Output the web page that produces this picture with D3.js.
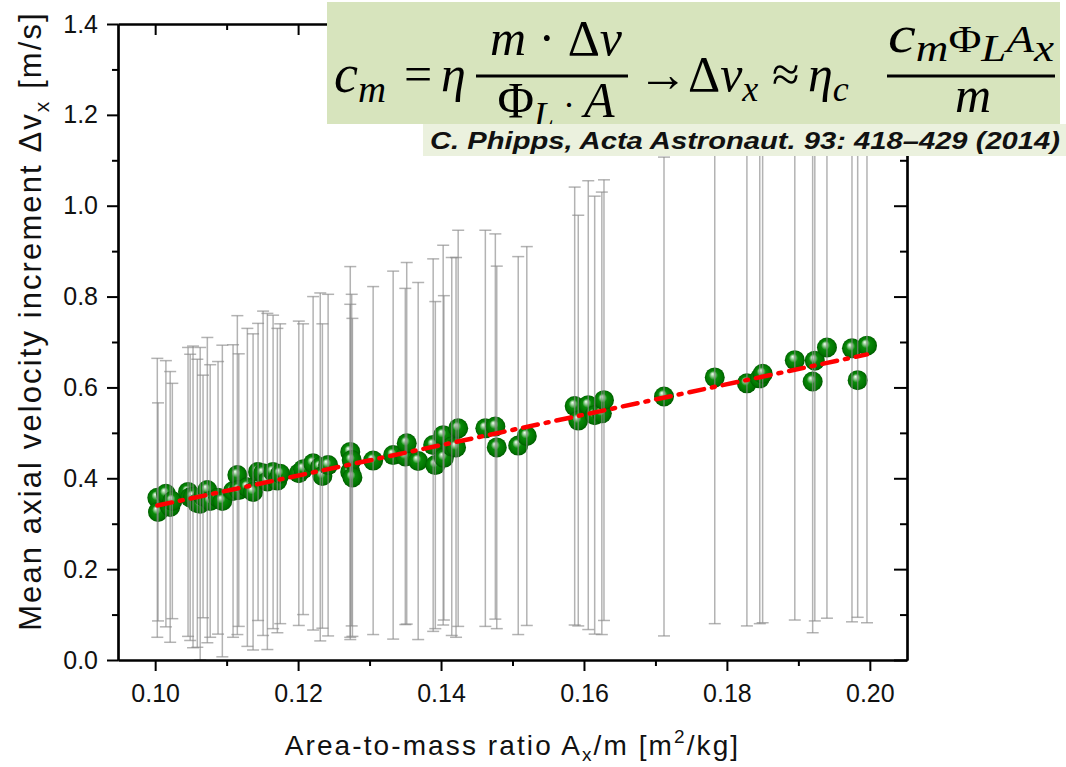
<!DOCTYPE html>
<html>
<head>
<meta charset="utf-8">
<script src="https://cdn.jsdelivr.net/npm/d3@7"></script>
<style>
  html, body { margin: 0; padding: 0; background: #fff; }
  svg { display: block; }
  .tick text { font-family: "Liberation Sans", Arial, sans-serif; font-size: 25px; fill: #111; }
</style>
</head>
<body>
<svg id="chart" width="1066" height="767"></svg>
<script>
// Area-to-mass ratio A_x/m [m^2/kg] of each sample
const ratio = [
  0.1003, 0.1004, 0.1015, 0.1021, 0.1024,
  0.1046, 0.1049, 0.1053, 0.1059, 0.1063, 0.1067, 0.1073, 0.1077, 0.1088, 0.1094,
  0.1109, 0.1115, 0.1117, 0.1129, 0.1137, 0.1144, 0.1151, 0.1157, 0.1165, 0.1171, 0.1175,
  0.1201, 0.1207, 0.1221, 0.1231, 0.1234, 0.1242,
  0.1273, 0.1273, 0.1275, 0.1276,
  0.1305, 0.1333, 0.1350, 0.1352, 0.1368, 0.1389, 0.1392, 0.1403, 0.1404, 0.1415, 0.1421, 0.1424,
  0.1462, 0.1476, 0.1478, 0.1508, 0.1520,
  0.1587, 0.1592, 0.1606, 0.1615, 0.1625, 0.1628,
  0.1712, 0.1783, 0.1828, 0.1846, 0.1850,
  0.1895, 0.1920, 0.1923, 0.1940, 0.1975, 0.1983, 0.1996
];
// Mean axial velocity increment Δv_x [m/s]
const meanDv = [
  0.357, 0.326, 0.366, 0.337, 0.350,
  0.370, 0.358, 0.359, 0.345, 0.344, 0.360, 0.374, 0.350, 0.357, 0.350,
  0.372, 0.407, 0.374, 0.380, 0.370, 0.414, 0.411, 0.393, 0.414, 0.395, 0.410,
  0.411, 0.420, 0.433, 0.425, 0.405, 0.429,
  0.458, 0.414, 0.440, 0.402,
  0.439, 0.451, 0.448, 0.477, 0.438, 0.473, 0.429, 0.495, 0.445, 0.470, 0.468, 0.510,
  0.510, 0.514, 0.468, 0.472, 0.493,
  0.559, 0.527, 0.561, 0.539, 0.543, 0.572,
  0.580, 0.622, 0.609, 0.620, 0.630,
  0.660, 0.613, 0.659, 0.688, 0.686, 0.616, 0.692
];
// Standard deviation of Δv_x [m/s] (symmetric error bars)
const sdDv = [
  0.307, 0.240, 0.293, 0.298, 0.259,
  0.318, 0.315, 0.332, 0.317, 0.344, 0.267, 0.336, 0.300, 0.300, 0.343,
  0.322, 0.351, 0.300, 0.350, 0.348, 0.327, 0.357, 0.370, 0.345, 0.335, 0.330,
  0.335, 0.320, 0.367, 0.383, 0.335, 0.376,
  0.408, 0.369, 0.365, 0.350,
  0.383, 0.405, 0.370, 0.398, 0.393, 0.410, 0.360, 0.418, 0.357, 0.416, 0.418, 0.436,
  0.436, 0.424, 0.399, 0.416, 0.417,
  0.482, 0.452, 0.494, 0.482, 0.487, 0.485,
  0.527, 0.542, 0.534, 0.540, 0.548,
  0.572, 0.553, 0.573, 0.596, 0.602, 0.522, 0.610
];
// Linear fit Δv_x = a + b·(A_x/m)
const fitIntercept = 0.004;
const fitSlope = 3.35;

const xTicks = [0.10, 0.12, 0.14, 0.16, 0.18, 0.20];
const xMinorTicks = [0.11, 0.13, 0.15, 0.17, 0.19];
const yTicks = [0.0, 0.2, 0.4, 0.6, 0.8, 1.0, 1.2, 1.4];
const yMinorTicks = [0.1, 0.3, 0.5, 0.7, 0.9, 1.1, 1.3];

const citation = "C. Phipps, Acta Astronaut. 93: 418\u2013429 (2014)";

const points = ratio.map((r, i) => ({ x: r, y: meanDv[i], e: sdDv[i] }));

const svg = d3.select("#chart");
const L = 118, R = 907, T = 24, B = 660;

const x = d3.scaleLinear().domain([0.0948, 0.2052]).range([L, R]);
const y = d3.scaleLinear().domain([0, 1.4]).range([B, T]);

const defs = svg.append("defs");
defs.append("clipPath").attr("id", "plotClip")
  .append("rect").attr("x", L).attr("y", T).attr("width", R - L).attr("height", B - T);
defs.append("clipPath").attr("id", "eqClip")
  .append("rect").attr("x", 327).attr("y", 2).attr("width", 733).attr("height", 122);

const grad = defs.append("radialGradient").attr("id", "ball")
  .attr("cx", "50%").attr("cy", "50%").attr("r", "50%")
  .attr("fx", "38%").attr("fy", "32%");
grad.append("stop").attr("offset", "0%").attr("stop-color", "#f4fff4");
grad.append("stop").attr("offset", "18%").attr("stop-color", "#9fd39f");
grad.append("stop").attr("offset", "45%").attr("stop-color", "#0a8a0a");
grad.append("stop").attr("offset", "85%").attr("stop-color", "#007400");
grad.append("stop").attr("offset", "100%").attr("stop-color", "#005800");

const plot = svg.append("g").attr("clip-path", "url(#plotClip)");

// spheres
plot.append("g").selectAll("circle").data(points).join("circle")
  .attr("cx", d => x(d.x)).attr("cy", d => y(d.y)).attr("r", 10)
  .attr("fill", "url(#ball)");

// error bars
const eb = plot.append("g").attr("stroke", "#8a8a8a").attr("stroke-width", 1.5)
  .attr("stroke-opacity", 0.65).attr("fill", "none");
const capW = 6;
points.forEach(d => {
  const y0 = y(d.y - d.e), y1 = y(d.y + d.e), cx = x(d.x);
  eb.append("line").attr("x1", cx).attr("x2", cx).attr("y1", y0).attr("y2", y1);
  eb.append("line").attr("x1", cx - capW).attr("x2", cx + capW).attr("y1", y0).attr("y2", y0);
  eb.append("line").attr("x1", cx - capW).attr("x2", cx + capW).attr("y1", y1).attr("y2", y1);
});

// fit line
const xs = d3.extent(ratio);
plot.append("line")
  .attr("x1", x(xs[0])).attr("y1", y(fitIntercept + fitSlope * xs[0]))
  .attr("x2", x(xs[1])).attr("y2", y(fitIntercept + fitSlope * xs[1]))
  .attr("stroke", "#ff0000").attr("stroke-width", 4.5)
  .attr("stroke-dasharray", "15,8,3,8").attr("stroke-linecap", "round");

// axes
function styleAxis(g) {
  g.select(".domain").attr("stroke", "#000").attr("stroke-width", 2.2);
  g.selectAll(".tick line").attr("stroke", "#000").attr("stroke-width", 2);
}
svg.append("g").attr("transform", `translate(0,${B})`)
  .call(d3.axisBottom(x).tickValues(xMinorTicks).tickSize(6).tickFormat("").tickSizeOuter(0)).call(styleAxis);
svg.append("g").attr("transform", `translate(0,${B})`)
  .call(d3.axisBottom(x).tickValues(xTicks).tickSize(11).tickPadding(13).tickFormat(d3.format(".2f")).tickSizeOuter(0)).call(styleAxis);
svg.append("g").attr("transform", `translate(0,${T})`)
  .call(d3.axisBottom(x).tickValues(xMinorTicks).tickSize(6).tickFormat("").tickSizeOuter(0)).call(styleAxis);
svg.append("g").attr("transform", `translate(0,${T})`)
  .call(d3.axisBottom(x).tickValues(xTicks).tickSize(11).tickFormat("").tickSizeOuter(0)).call(styleAxis);

svg.append("g").attr("transform", `translate(${L},0)`)
  .call(d3.axisLeft(y).tickValues(yMinorTicks).tickSize(6).tickFormat("").tickSizeOuter(0)).call(styleAxis);
svg.append("g").attr("transform", `translate(${L},0)`)
  .call(d3.axisLeft(y).tickValues(yTicks).tickSize(11).tickPadding(9).tickFormat(d3.format(".1f")).tickSizeOuter(0)).call(styleAxis);
svg.append("g").attr("transform", `translate(${R},0)`)
  .call(d3.axisLeft(y).tickValues(yMinorTicks).tickSize(7).tickFormat("").tickSizeOuter(0)).call(styleAxis);
svg.append("g").attr("transform", `translate(${R},0)`)
  .call(d3.axisLeft(y).tickValues(yTicks).tickSize(13).tickFormat("").tickSizeOuter(0)).call(styleAxis);

// axis titles
const sans = '"Liberation Sans", Arial, sans-serif';
const yt = svg.append("text")
  .attr("transform", `translate(41,321) rotate(-90)`)
  .attr("text-anchor", "middle").attr("font-family", sans).attr("font-size", 31).attr("fill", "#111")
  .attr("letter-spacing", 2.1);
yt.append("tspan").text("Mean axial velocity increment \u0394v");
yt.append("tspan").attr("font-size", 21).attr("dy", 8).text("x");
yt.append("tspan").attr("dy", -8).text(" [m/s]");

const xt = svg.append("text")
  .attr("x", (L + R) / 2).attr("y", 755)
  .attr("text-anchor", "middle").attr("font-family", sans).attr("font-size", 28).attr("fill", "#111")
  .attr("letter-spacing", 2.1);
xt.append("tspan").text("Area-to-mass ratio A");
xt.append("tspan").attr("font-size", 19).attr("dy", 6).text("x");
xt.append("tspan").attr("dy", -6).text("/m [m");
xt.append("tspan").attr("font-size", 19).attr("dy", -12).text("2");
xt.append("tspan").attr("dy", 12).text("/kg]");

// formula panel
const serif = '"Liberation Serif", "DejaVu Serif", serif';
svg.append("rect").attr("x", 327).attr("y", 2).attr("width", 733).attr("height", 122).attr("fill", "#d7e4bd");
const eq = svg.append("g").attr("font-family", serif).attr("fill", "#000").attr("clip-path", "url(#eqClip)");

function mathText(px, py, size, anchor, parts) {
  const t = eq.append("text").attr("x", px).attr("y", py).attr("font-size", size)
    .attr("text-anchor", anchor);
  parts.forEach(p => {
    const s = t.append("tspan").text(p.t);
    if (p.i) s.attr("font-style", "italic");
    if (p.sub) s.attr("font-size", size * 0.72).attr("dy", p.sub);
    if (p.dx) s.attr("dx", p.dx);
  });
  return t;
}
const FS = 50;
mathText(334, 92, FS + 4, "start", [{ t: "c", i: 1 }, { t: "m", i: 1, sub: 10 }]);
mathText(404, 91, FS, "start", [{ t: "=" }]);
mathText(441, 91, FS, "start", [{ t: "\u03b7", i: 1 }]);
eq.append("line").attr("x1", 476).attr("x2", 628).attr("y1", 76).attr("y2", 76).attr("stroke", "#000").attr("stroke-width", 3);
mathText(556, 55, FS, "middle", [{ t: "m", i: 1 }, { t: " \u00b7 \u0394" }, { t: "v", i: 1 }]);
mathText(556, 117, FS, "middle", [{ t: "\u03a6" }, { t: "L", i: 1, sub: 10 }, { t: " \u00b7 ", sub: -10 }, { t: "A", i: 1 }]);
mathText(638, 91, FS, "start", [{ t: "\u2192" }]);
mathText(688, 91, FS, "start", [{ t: "\u0394" }, { t: "v", i: 1 }, { t: "x", i: 1, sub: 10 }]);
mathText(772, 91, FS, "start", [{ t: "\u2248" }]);
mathText(808, 91, FS, "start", [{ t: "\u03b7", i: 1 }, { t: "c", i: 1, sub: 10 }]);
eq.append("line").attr("x1", 887).attr("x2", 1055).attr("y1", 76).attr("y2", 76).attr("stroke", "#000").attr("stroke-width", 3);
mathText(971, 52, FS + 2, "middle", [{ t: "c", i: 1 }, { t: "m", i: 1, sub: 9 }, { t: "\u03a6", sub: -9 }, { t: "L", i: 1, sub: 9 }, { t: "A", i: 1, sub: -9 }, { t: "x", i: 1, sub: 9 }])
  .attr("textLength", 166).attr("lengthAdjust", "spacingAndGlyphs");
mathText(973, 112, FS, "middle", [{ t: "m", i: 1 }]);

// citation strip
svg.append("rect").attr("x", 423).attr("y", 124).attr("width", 643).attr("height", 32).attr("fill", "#ebf1de");
svg.append("text").attr("x", 430).attr("y", 149)
  .attr("font-family", sans).attr("font-size", 23).attr("font-weight", "bold").attr("font-style", "italic")
  .attr("fill", "#111").attr("textLength", 630).attr("lengthAdjust", "spacingAndGlyphs")
  .text(citation);
</script>
</body>
</html>
